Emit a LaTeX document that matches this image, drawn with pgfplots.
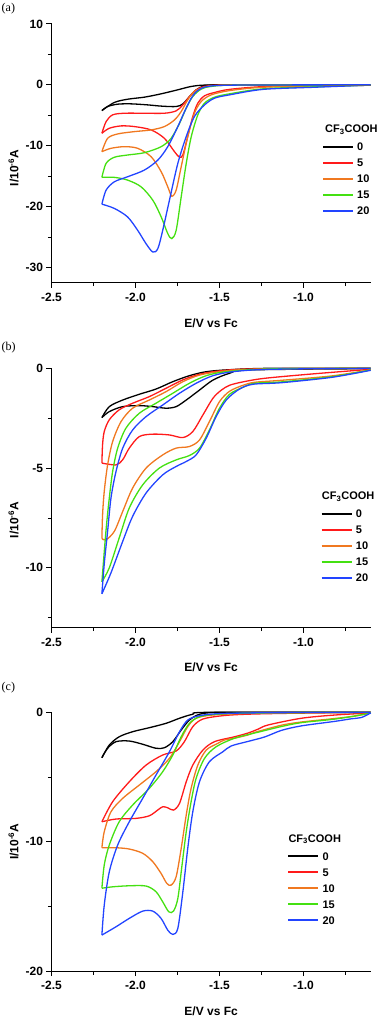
\documentclass[border=0pt]{standalone}
\usepackage{fontspec}
\setmainfont{Liberation Sans}
\newfontfamily\seriffont{Liberation Serif}
\usepackage{pgfplots}
\pgfplotsset{compat=1.18}
\definecolor{cBlack}{HTML}{000000}
\definecolor{cRed}{HTML}{FF1A1A}
\definecolor{cOrange}{HTML}{F07820}
\definecolor{cGreen}{HTML}{44E011}
\definecolor{cBlue}{HTML}{2244FF}

\pgfplotsset{
  cvaxis/.style={
    scale only axis, width=319.2pt,
    axis x line=bottom, axis y line=left,
    axis line style={line width=0.9pt, -},
    xmin=-2.5, xmax=-0.6,
    xtick={-2.5,-2,-1.5,-1}, xticklabels={-2.5,-2.0,-1.5,-1.0},
    minor xtick={-2.25,-1.75,-1.25,-0.75},
    tick align=outside,
    major tick length=5pt, minor tick length=3.5pt,
    every tick/.style={black, line width=0.9pt},
    tick label style={font=\fontsize{12}{14}\selectfont\bfseries},
    xticklabel style={yshift=-2pt},
    label style={font=\fontsize{12}{14}\selectfont\bfseries},
    xlabel={E/V vs Fc},
    ylabel={I/10\textsuperscript{-6}A},
    every axis plot/.append style={line width=1.3pt, smooth, tension=0.5},
    clip=false,
  }
}

% legend block: line start x, title y, title x; five rows 16pt apart
\newcommand{\cvlegend}[3]{%
  \node[anchor=west, inner sep=0pt, font=\fontsize{11}{13}\selectfont\bfseries]
    at (#3pt,-#2pt) {CF\textsubscript{3}COOH};
  \foreach \c/\t [count=\i from 1] in {cBlack/0,cRed/5,cOrange/10,cGreen/15,cBlue/20} {
    \draw[\c, line width=1.8pt] (#1pt,{-(#2+1+16*\i)*1pt}) -- ++(30pt,0pt);
    \node[anchor=west, inner sep=0pt, font=\fontsize{11}{13}\selectfont\bfseries]
      at ({(#1+34)*1pt},{-(#2+1+16*\i)*1pt}) {\t};
  }%
}

\begin{document}
\begin{tikzpicture}
\useasboundingbox (0,0) rectangle (378pt,-1017pt);

% ---------------- (a)
\begin{axis}[cvaxis, at={(51.5pt,-282.7pt)}, anchor=south west, height=258.8pt,
    ymin=-32.5, ymax=10,
    ytick={-30,-20,-10,0,10}, yticklabels={-30,-20,-10,0,10},
    minor ytick={-25,-15,-5,5},
    xlabel style={at={(axis description cs:0.5,-0.155)}, anchor=center},
    ylabel style={at={(axis description cs:-0.119,0.443)}, anchor=center}]
% cathodic sweeps
\addplot[cBlack] coordinates {(-0.6,0) (-1.2,0) (-1.5,-0.02) (-1.589,-0.16) (-1.638,-0.82) (-1.678,-1.92) (-1.718,-3.13) (-1.758,-3.57) (-1.847,-3.5) (-1.927,-3.3) (-2.026,-3.13) (-2.106,-3.18) (-2.166,-3.57) (-2.2,-4.23)};
\addplot[cRed] coordinates {(-0.6,-0.05) (-0.9,-0.12) (-1.24,-0.3) (-1.44,-0.75) (-1.529,-1.26) (-1.589,-1.81) (-1.629,-3.0) (-1.659,-5.2) (-1.689,-8.5) (-1.718,-11.5) (-1.738,-11.9) (-1.768,-10.98) (-1.828,-8.79) (-1.907,-7.41) (-2.007,-6.86) (-2.086,-6.75) (-2.156,-7.14) (-2.2,-7.96)};
\addplot[cOrange] coordinates {(-0.6,-0.08) (-0.9,-0.18) (-1.24,-0.4) (-1.44,-0.95) (-1.549,-1.65) (-1.609,-2.75) (-1.649,-4.67) (-1.689,-8.5) (-1.728,-13.46) (-1.758,-17.3) (-1.784,-18.29) (-1.808,-16.75) (-1.847,-14.28) (-1.907,-11.81) (-1.987,-10.43) (-2.066,-10.16) (-2.146,-10.43) (-2.2,-10.98)};
\addplot[cGreen] coordinates {(-0.6,-0.05) (-0.933,-0.33) (-1.24,-0.66) (-1.44,-1.48) (-1.529,-2.03) (-1.589,-3.01) (-1.629,-4.94) (-1.668,-8.5) (-1.698,-12.9) (-1.728,-18.4) (-1.758,-23.9) (-1.784,-25.26) (-1.808,-24.43) (-1.847,-21.7) (-1.897,-18.95) (-1.967,-16.75) (-2.047,-15.65) (-2.126,-15.2) (-2.2,-15.2)};
\addplot[cBlue] coordinates {(-0.6,-0.05) (-0.933,-0.4) (-1.24,-0.75) (-1.44,-1.65) (-1.529,-2.19) (-1.589,-3.3) (-1.649,-5.2) (-1.698,-8.5) (-1.748,-12.9) (-1.798,-18.95) (-1.838,-23.9) (-1.867,-26.9) (-1.897,-27.46) (-1.937,-26.1) (-1.987,-23.9) (-2.047,-21.7) (-2.126,-20.3) (-2.2,-19.6)};
% return sweeps
\addplot[cBlack] coordinates {(-2.2,-4.23) (-2.126,-2.9) (-2.045,-2.36) (-1.947,-2.03) (-1.847,-1.48) (-1.748,-0.82) (-1.668,-0.27) (-1.589,-0.05) (-1.4,0) (-0.6,0)};
\addplot[cRed] coordinates {(-2.2,-7.96) (-2.175,-6.04) (-2.136,-4.94) (-2.066,-4.67) (-1.947,-4.67) (-1.828,-4.67) (-1.758,-4.28) (-1.718,-3.3) (-1.678,-1.92) (-1.638,-0.82) (-1.589,-0.27) (-1.5,-0.05) (-1.2,0) (-0.6,0)};
\addplot[cOrange] coordinates {(-2.2,-10.98) (-2.166,-8.79) (-2.106,-8.07) (-2.007,-7.69) (-1.907,-7.41) (-1.828,-6.86) (-1.768,-5.77) (-1.728,-4.39) (-1.689,-2.47) (-1.649,-1.1) (-1.589,-0.38) (-1.5,-0.1) (-1.2,0) (-0.6,0)};
\addplot[cGreen] coordinates {(-2.2,-15.2) (-2.175,-12.9) (-2.126,-11.9) (-2.047,-11.53) (-1.947,-11.15) (-1.847,-10.16) (-1.788,-8.79) (-1.738,-6.32) (-1.698,-3.84) (-1.659,-1.92) (-1.609,-0.71) (-1.549,-0.27) (-1.4,-0.05) (-0.6,0)};
\addplot[cBlue] coordinates {(-2.2,-19.6) (-2.175,-17.3) (-2.126,-15.93) (-2.047,-15.1) (-1.947,-14.0) (-1.867,-12.36) (-1.808,-10.16) (-1.748,-6.86) (-1.708,-4.39) (-1.668,-2.19) (-1.629,-0.93) (-1.569,-0.27) (-1.4,-0.05) (-0.6,0)};
\end{axis}

% ---------------- (b)
\begin{axis}[cvaxis, at={(51.5pt,-627.7pt)}, anchor=south west, height=259.4pt,
    ymin=-13, ymax=0,
    ytick={-10,-5,0}, yticklabels={-10,-5,0},
    minor ytick={-12.5,-7.5,-2.5},
    xlabel style={at={(axis description cs:0.5,-0.154)}, anchor=center},
    ylabel style={at={(axis description cs:-0.119,0.415)}, anchor=center}]
\addplot[cBlack] coordinates {(-0.6,-0.02) (-1.321,-0.08) (-1.44,-0.25) (-1.539,-0.59) (-1.619,-1.09) (-1.698,-1.59) (-1.758,-1.92) (-1.818,-2.0) (-1.897,-1.92) (-1.977,-1.87) (-2.076,-1.92) (-2.156,-2.17) (-2.2,-2.47)};
\addplot[cRed] coordinates {(-0.6,-0.05) (-0.93,-0.27) (-1.23,-0.5) (-1.36,-0.68) (-1.44,-0.85) (-1.49,-1.1) (-1.539,-1.5) (-1.599,-2.34) (-1.659,-3.17) (-1.718,-3.47) (-1.798,-3.34) (-1.897,-3.3) (-1.977,-3.42) (-2.037,-4.0) (-2.076,-4.58) (-2.116,-4.84) (-2.2,-4.75)};
\addplot[cOrange] coordinates {(-0.6,-0.08) (-0.83,-0.38) (-1.13,-0.6) (-1.29,-0.7) (-1.36,-0.85) (-1.44,-1.15) (-1.5,-1.67) (-1.56,-2.67) (-1.619,-3.59) (-1.679,-3.92) (-1.758,-4.0) (-1.838,-4.34) (-1.937,-5.0) (-2.017,-6.0) (-2.076,-7.17) (-2.126,-8.17) (-2.176,-8.6) (-2.2,-8.53)};
\addplot[cGreen] coordinates {(-0.6,-0.08) (-0.83,-0.42) (-1.13,-0.68) (-1.291,-0.75) (-1.36,-0.95) (-1.44,-1.3) (-1.5,-2.0) (-1.56,-3.09) (-1.619,-4.0) (-1.679,-4.37) (-1.758,-4.59) (-1.858,-5.0) (-1.957,-5.84) (-2.037,-7.0) (-2.097,-8.5) (-2.156,-10.0) (-2.2,-10.7)};
\addplot[cBlue] coordinates {(-0.6,-0.1) (-0.83,-0.45) (-1.13,-0.72) (-1.301,-0.8) (-1.381,-1.04) (-1.46,-1.59) (-1.52,-2.42) (-1.579,-3.5) (-1.639,-4.34) (-1.698,-4.67) (-1.758,-4.92) (-1.838,-5.34) (-1.937,-6.25) (-2.017,-7.42) (-2.076,-8.67) (-2.146,-10.25) (-2.2,-11.3)};
\addplot[cBlack] coordinates {(-2.2,-2.47) (-2.156,-1.92) (-2.076,-1.59) (-1.977,-1.3) (-1.878,-1.04) (-1.778,-0.67) (-1.679,-0.37) (-1.579,-0.17) (-1.44,-0.07) (-1.2,0) (-0.6,0)};
\addplot[cRed] coordinates {(-2.2,-4.75) (-2.196,-3.83) (-2.186,-3.17) (-2.156,-2.58) (-2.097,-2.08) (-2.017,-1.75) (-1.918,-1.42) (-1.818,-1.0) (-1.718,-0.58) (-1.619,-0.3) (-1.5,-0.13) (-1.3,-0.03) (-0.6,0)};
\addplot[cOrange] coordinates {(-2.2,-8.53) (-2.196,-7.34) (-2.186,-6.17) (-2.166,-4.84) (-2.136,-3.67) (-2.086,-2.67) (-2.017,-2.0) (-1.918,-1.59) (-1.818,-1.17) (-1.718,-0.67) (-1.619,-0.34) (-1.5,-0.17) (-1.3,-0.05) (-0.6,0)};
\addplot[cGreen] coordinates {(-2.2,-10.7) (-2.176,-8.17) (-2.156,-6.5) (-2.136,-5.17) (-2.106,-4.0) (-2.057,-3.0) (-1.977,-2.25) (-1.878,-1.75) (-1.778,-1.25) (-1.679,-0.75) (-1.579,-0.37) (-1.46,-0.17) (-1.2,-0.03) (-0.6,0)};
\addplot[cBlue] coordinates {(-2.2,-11.3) (-2.186,-9.8) (-2.166,-8.17) (-2.146,-6.5) (-2.116,-5.17) (-2.076,-4.0) (-2.017,-3.09) (-1.937,-2.42) (-1.838,-1.84) (-1.738,-1.25) (-1.639,-0.75) (-1.539,-0.37) (-1.42,-0.17) (-1.2,-0.05) (-0.6,0)};
\end{axis}

% ---------------- (c)
\begin{axis}[cvaxis, at={(51.5pt,-971pt)}, anchor=south west, height=258.7pt,
    ymin=-20, ymax=0,
    ytick={-20,-10,0}, yticklabels={-20,-10,0},
    minor ytick={-15,-5},
    xlabel style={at={(axis description cs:0.5,-0.155)}, anchor=center},
    ylabel style={at={(axis description cs:-0.119,0.5)}, anchor=center}]
\addplot[cBlack] coordinates {(-0.6,0) (-1.3,0) (-1.52,0) (-1.619,-0.15) (-1.679,-0.6) (-1.728,-1.37) (-1.778,-2.27) (-1.828,-2.74) (-1.878,-2.78) (-1.957,-2.47) (-2.037,-2.22) (-2.116,-2.27) (-2.166,-2.78) (-2.2,-3.51)};
\addplot[cRed] coordinates {(-0.6,-0.05) (-0.814,-0.21) (-1.013,-0.46) (-1.211,-0.98) (-1.27,-1.3) (-1.33,-1.6) (-1.41,-1.89) (-1.53,-2.27) (-1.599,-2.92) (-1.659,-4.08) (-1.698,-5.37) (-1.738,-7.04) (-1.774,-7.56) (-1.808,-7.38) (-1.838,-7.3) (-1.868,-7.56) (-1.918,-8.0) (-1.997,-8.2) (-2.116,-8.25) (-2.2,-8.46)};
\addplot[cOrange] coordinates {(-0.6,-0.05) (-0.7,-0.3) (-0.83,-0.5) (-1.013,-0.75) (-1.132,-1.0) (-1.29,-1.55) (-1.33,-1.75) (-1.41,-2.0) (-1.47,-2.14) (-1.51,-2.4) (-1.579,-2.92) (-1.629,-4.08) (-1.669,-5.88) (-1.698,-7.94) (-1.728,-10.52) (-1.758,-12.71) (-1.788,-13.36) (-1.814,-13.22) (-1.848,-12.45) (-1.897,-11.55) (-1.957,-10.9) (-2.037,-10.57) (-2.116,-10.47) (-2.2,-10.47)};
\addplot[cGreen] coordinates {(-0.6,-0.05) (-0.7,-0.3) (-0.83,-0.55) (-1.013,-0.8) (-1.132,-1.1) (-1.29,-1.6) (-1.41,-2.0) (-1.52,-2.66) (-1.589,-3.56) (-1.639,-5.1) (-1.669,-6.91) (-1.698,-9.23) (-1.723,-11.81) (-1.748,-14.39) (-1.774,-15.37) (-1.802,-15.42) (-1.838,-14.65) (-1.878,-13.87) (-1.937,-13.43) (-2.037,-13.41) (-2.136,-13.49) (-2.2,-13.6)};
\addplot[cBlue] coordinates {(-0.6,-0.05) (-0.655,-0.4) (-0.715,-0.5) (-0.814,-0.7) (-1.013,-1.05) (-1.132,-1.4) (-1.23,-1.9) (-1.33,-2.25) (-1.43,-2.6) (-1.48,-3.05) (-1.56,-3.82) (-1.619,-5.37) (-1.659,-7.69) (-1.689,-10.52) (-1.718,-13.87) (-1.748,-16.7) (-1.778,-17.17) (-1.808,-16.84) (-1.848,-15.93) (-1.897,-15.37) (-1.957,-15.37) (-2.037,-15.93) (-2.116,-16.58) (-2.2,-17.22)};
\addplot[cBlack] coordinates {(-2.2,-3.51) (-2.156,-2.53) (-2.097,-1.89) (-2.017,-1.5) (-1.918,-1.19) (-1.818,-0.85) (-1.738,-0.46) (-1.659,-0.15) (-1.56,0) (-0.6,0)};
\addplot[cRed] coordinates {(-2.2,-8.46) (-2.136,-6.91) (-2.037,-5.37) (-1.937,-4.08) (-1.838,-3.3) (-1.758,-2.99) (-1.709,-2.27) (-1.659,-1.11) (-1.599,-0.52) (-1.48,-0.26) (-1.341,-0.15) (-1.1,-0.08) (-0.6,0)};
\addplot[cOrange] coordinates {(-2.2,-10.47) (-2.186,-9.23) (-2.146,-7.69) (-2.076,-6.65) (-1.977,-5.62) (-1.878,-4.59) (-1.798,-3.56) (-1.738,-2.27) (-1.689,-1.11) (-1.639,-0.46) (-1.539,-0.21) (-1.3,-0.08) (-0.6,0)};
\addplot[cGreen] coordinates {(-2.2,-13.6) (-2.186,-11.8) (-2.156,-10.26) (-2.097,-8.46) (-2.017,-7.17) (-1.918,-5.88) (-1.838,-4.59) (-1.778,-3.3) (-1.728,-1.89) (-1.679,-0.85) (-1.619,-0.34) (-1.52,-0.15) (-1.3,-0.05) (-0.6,0)};
\addplot[cBlue] coordinates {(-2.2,-17.22) (-2.186,-14.9) (-2.156,-12.33) (-2.106,-10.26) (-2.037,-8.46) (-1.957,-6.65) (-1.878,-4.85) (-1.798,-3.05) (-1.738,-1.5) (-1.689,-0.6) (-1.619,-0.26) (-1.5,-0.1) (-1.2,-0.03) (-0.6,0)};
\end{axis}

% legends: line start x, title y, title x
\cvlegend{323}{130}{325}
\cvlegend{321.7}{496.7}{321.7}
\cvlegend{288.3}{839.3}{288.3}

\begin{scope}[font=\seriffont\fontsize{12}{14}\selectfont]
\node[anchor=west, inner sep=0pt] at (1.5pt,-9pt) {(a)};
\node[anchor=west, inner sep=0pt] at (1.5pt,-348pt) {(b)};
\node[anchor=west, inner sep=0pt] at (1.5pt,-688pt) {(c)};
\end{scope}
\end{tikzpicture}
\end{document}
